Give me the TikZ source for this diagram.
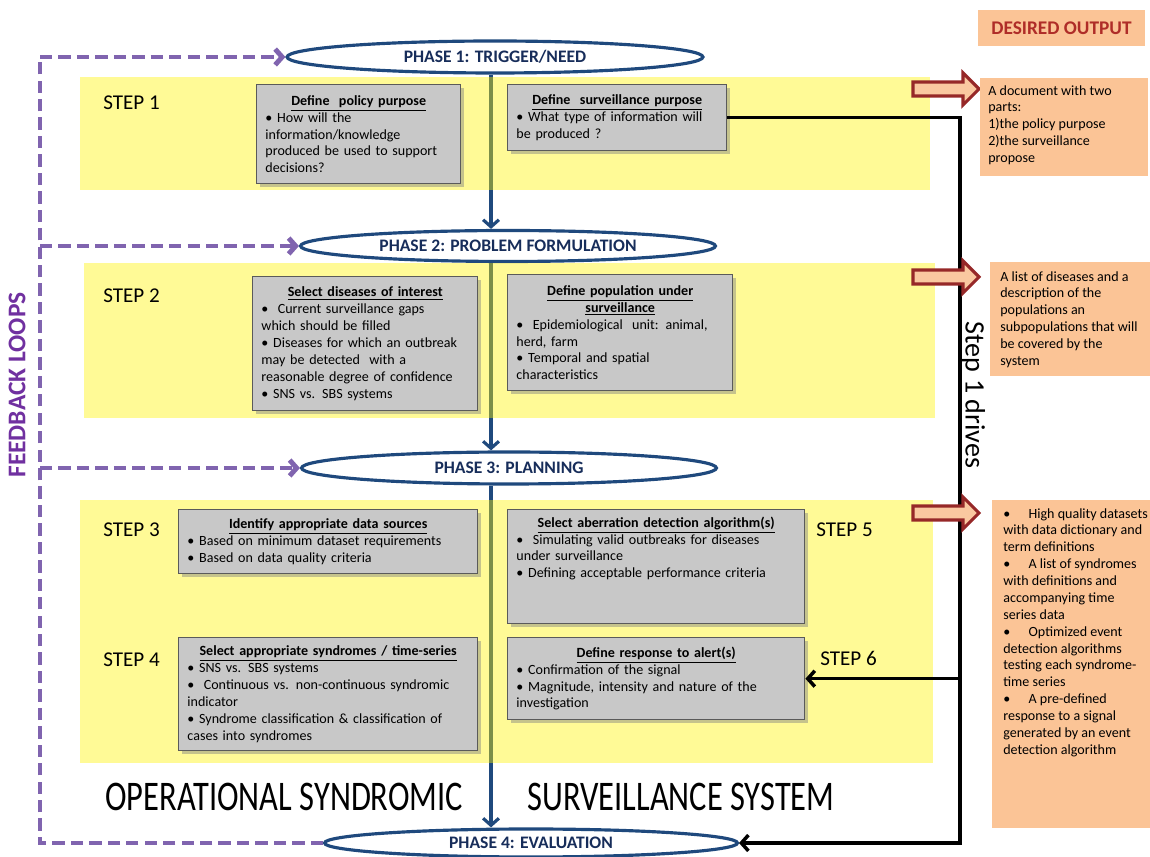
\documentclass[tikz,border=0pt]{standalone}
\usepackage{fontspec}
\setmainfont{Carlito}
\usepackage{tikz}
\usetikzlibrary{positioning,arrows.meta,shapes.geometric,shadows}
\definecolor{phaseblue}{RGB}{31,73,125}
\definecolor{phasetext}{RGB}{23,45,90}
\definecolor{loopviolet}{RGB}{128,100,175}
\definecolor{looptext}{RGB}{112,48,160}
\definecolor{outorange}{RGB}{251,196,150}
\definecolor{arrowfill}{RGB}{250,200,160}
\definecolor{arrowred}{RGB}{150,40,40}
\definecolor{boxgrey}{RGB}{200,200,200}
\definecolor{boxedge}{RGB}{90,90,90}
\definecolor{titlered}{RGB}{175,45,40}
\newcommand{\tasktitle}[1]{{\centering\underline{\textbf{#1}}\par}}

\begin{document}
\begin{tikzpicture}[x=0.02cm,y=-0.02cm,
  phase/.style={ellipse,draw=phaseblue,line width=1.8pt,fill=white,inner sep=0pt,text=phasetext,font=\bfseries\fontsize{10}{12}\selectfont},
  task/.style={draw=boxedge,line width=0.8pt,fill=boxgrey,anchor=north west,inner xsep=5pt,inner ysep=4pt,align=left,font=\fontsize{8}{9.6}\selectfont,drop shadow={shadow xshift=2pt,shadow yshift=-2pt,opacity=0.45}},
  steplabel/.style={anchor=west,inner sep=0pt,font=\fontsize{12}{14}\selectfont},
  outtext/.style={anchor=north west,align=left,inner sep=0pt,font=\fontsize{8}{9.6}\selectfont},
  flow/.style={draw=phaseblue,line width=1.8pt,-{Straight Barb[length=4pt,width=9pt]}},
  drive/.style={draw=black,line width=2pt},
  loopline/.style={draw=loopviolet,line width=2.8pt,dash pattern=on 7pt off 3.5pt},
  band/.style={fill=yellow,fill opacity=0.41},
  outbox/.style={fill=outorange},
  bigarrow/.style={draw=arrowred,fill=arrowfill,line width=1.8pt,line join=miter}]
  \useasboundingbox (0,0) rectangle (1150,857);

  \node[phase,minimum width=8.32cm,minimum height=0.64cm] (p1) at (495,57) {PHASE 1: TRIGGER/NEED};
  \node[phase,minimum width=8.3cm,minimum height=0.62cm] (p2) at (508,246) {PHASE 2: PROBLEM FORMULATION};
  \node[phase,minimum width=8.3cm,minimum height=0.64cm] (p3) at (509,468) {PHASE 3: PLANNING};
  \node[phase,minimum width=8.26cm,minimum height=0.56cm] (p4) at (531,843) {PHASE 4: EVALUATION};
  \coordinate (spine) at (491,0);
  \coordinate (bus) at (960,0);

  \draw[flow] (spine |- p1.south) -- (spine |- p2.north);
  \draw[flow] (spine |- p2.south) -- (spine |- p3.north);
  \draw[flow] (spine |- p3.south) -- (spine |- p4.north);

  \fill[band] (80,77) rectangle (930,190);
  \fill[band] (84,263) rectangle (935,418);
  \fill[band] (80,500) rectangle (933,763);

  \node[steplabel] (s1) at (103,103) {STEP 1};
  \node[steplabel] (s2) at (103,296) {STEP 2};
  \node[steplabel] (s3) at (103,530) {STEP 3};
  \node[steplabel] (s4) at (103,660) {STEP 4};
  \node[steplabel] (s5) at (816,530) {STEP 5};
  \node[steplabel] (s6) at (820,658) {STEP 6};

  \node[task,text width=3.73cm,minimum height=1.98cm] (pol) at (256,84) {\tasktitle{Define\ \ policy purpose}
    \textbullet\ How will the\\ information/knowledge\\ produced be used to support\\ decisions?};
  \node[task,text width=4.03cm,minimum height=1.32cm] (srv) at (507,84) {\tasktitle{Define\ \ surveillance purpose}
    \textbullet\ What type of information will\\ be produced ?};
  \node[task,text width=4.15cm,minimum height=2.68cm] (dis) at (252,276) {\tasktitle{Select diseases of interest}
    \textbullet\ \ Current surveillance gaps\\ which should be filled\\ \textbullet\ Diseases for which an outbreak\\ may be detected\ \ with a\\ reasonable degree of confidence\\ \textbullet\ SNS vs. SBS systems};
  \node[task,text width=4.15cm,minimum height=2.32cm] (pop) at (507,274) {{\centering\underline{\textbf{Define population under}}\\ \underline{\textbf{surveillance}}\par}
    \textbullet\ \ Epidemiological\ \ unit: animal,\\ herd, farm\\ \textbullet\ Temporal and spatial\\ characteristics};
  \node[task,text width=5.63cm,minimum height=1.28cm] (dat) at (178,509) {\tasktitle{Identify appropriate data sources}
    \textbullet\ Based on minimum dataset requirements\\ \textbullet\ Based on data quality criteria};
  \node[task,text width=5.59cm] (abr) at (507,509) {\tasktitle{Select aberration detection algorithm(s)}
    \textbullet\ \ Simulating valid outbreaks for diseases\\ under surveillance\\ \textbullet\ Defining acceptable performance criteria\rule[-22pt]{0pt}{0pt}};
  \node[task,text width=5.63cm,minimum height=2.26cm] (syn) at (178,637) {\tasktitle{Select appropriate syndromes / time-series}
    \textbullet\ SNS vs. SBS systems\\ \textbullet\ \ Continuous vs. non-continuous syndromic\\ indicator\\ \textbullet\ Syndrome classification \& classification of\\ cases into syndromes};
  \node[task,text width=5.59cm,minimum height=1.64cm] (rsp) at (507,637) {\tasktitle{Define response to alert(s)}
    \textbullet\ Confirmation of the signal\\ \textbullet\ Magnitude, intensity and nature of the\\ investigation};

  \draw[drive,-{Straight Barb[length=4pt,width=9pt]}] (srv.east) -| (bus |- p4.east) -- (p4.east);
  \draw[drive,-{Straight Barb[length=4pt,width=9pt]}] (bus |- rsp.east) -- (rsp.east);
  \node[rotate=-90,inner sep=0pt,font=\fontsize{16}{18}\selectfont] (drives) at (973,395) {Step 1 drives};

  \foreach \y in {89,277,513}
    \draw[bigarrow] (913,\y-7) -- (963,\y-7) -- (963,\y-16) -- (979,\y) -- (963,\y+16) -- (963,\y+7) -- (913,\y+7) -- cycle;

  \node[outbox,minimum width=3.34cm,minimum height=0.72cm,text=titlered,font=\bfseries\fontsize{11}{13}\selectfont] (head) at (1061.5,28) {DESIRED OUTPUT};
  \fill[outbox] (980,78) rectangle (1148,176);
  \fill[outbox] (990,262) rectangle (1150,376);
  \fill[outbox] (992,500) rectangle (1150,828);
  \node[outtext] (out1) at (988,85) {A document with two\\ parts:\\ 1)the policy purpose\\ 2)the surveillance\\ propose};
  \node[outtext] (out2) at (1000,271) {A list of diseases and a\\ description of the\\ populations an\\ subpopulations that will\\ be covered by the\\ system};
  \node[outtext] (out3) at (1003,508) {\textbullet\hspace{1.3em}High quality datasets\\ with data dictionary and\\ term definitions\\ \textbullet\hspace{1.3em}A list of syndromes\\ with definitions and\\ accompanying time\\ series data\\ \textbullet\hspace{1.3em}Optimized event\\ detection algorithms\\ testing each syndrome-\\ time series\\ \textbullet\hspace{1.3em}A pre-defined\\ response to a signal\\ generated by an event\\ detection algorithm};

  \node[anchor=west,inner sep=0pt,font=\fontsize{24}{28}\selectfont] (opsys) at (105,797) {\scalebox{0.77}[1]{OPERATIONAL SYNDROMIC}};
  \node[anchor=west,inner sep=0pt,font=\fontsize{24}{28}\selectfont] (survsys) at (527,797) {\scalebox{0.77}[1]{SURVEILLANCE SYSTEM}};

  \coordinate (fbtop) at (40,57);
  \draw[loopline] (p4.west) -| (fbtop);
  \draw[loopline,-{Straight Barb[length=4pt,width=9pt]}] (fbtop) -- (p1.west);
  \draw[loopline,-{Straight Barb[length=4pt,width=9pt]}] (fbtop |- p2.west) -- (p2.west);
  \draw[loopline,-{Straight Barb[length=4pt,width=9pt]}] (fbtop |- p3.west) -- (p3.west);
  \node[rotate=90,inner sep=0pt,text=looptext,font=\bfseries\fontsize{14.5}{16}\selectfont] (loops) at (17,385) {FEEDBACK LOOPS};
\end{tikzpicture}
\end{document}
